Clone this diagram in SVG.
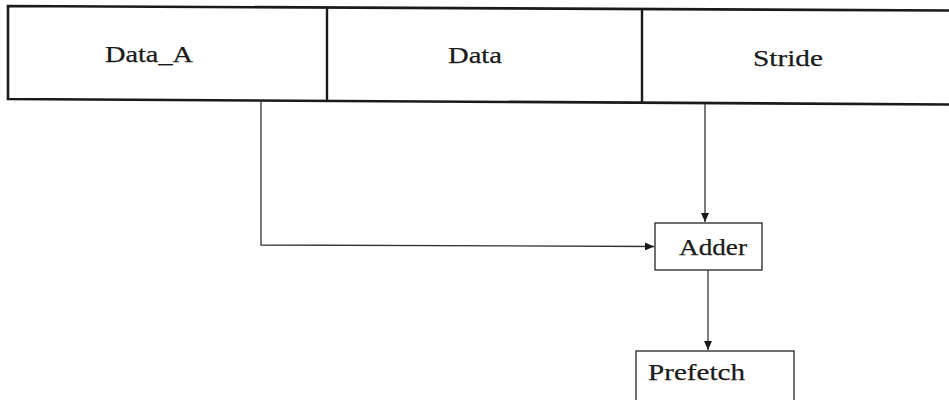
<svg xmlns="http://www.w3.org/2000/svg" width="949" height="400" viewBox="0 0 949 400">
<style>
.bar{fill:#fff;stroke:#1a1a1a;stroke-width:2.6}
.box{fill:#fff;stroke:#333;stroke-width:1.4}
.conn{fill:none;stroke:#333;stroke-width:1.3}
text{font-family:"Liberation Serif","Times New Roman",serif;fill:#1a1a1a;font-size:24px;stroke:#1a1a1a;stroke-width:0.25}
</style>
<defs>
<marker id="ah" markerWidth="10" markerHeight="8" refX="9" refY="4" orient="auto" markerUnits="userSpaceOnUse">
<path d="M0,0 L9,4 L0,8 Z" fill="#1a1a1a"/>
</marker>
</defs>
<rect width="949" height="400" fill="#fff"/>
<g id="register">
<polygon class="bar" points="8,6 951,10.5 951,104.5 8,99"/>
<line x1="327" y1="7" x2="327" y2="101" stroke="#1a1a1a" stroke-width="2.4"/>
<line x1="642" y1="8.5" x2="642" y2="102.5" stroke="#1a1a1a" stroke-width="2.4"/>
</g>
<g id="data_a"><text x="105" y="62" textLength="88" lengthAdjust="spacingAndGlyphs">Data_A</text></g>
<g id="data"><text x="448" y="63" textLength="54" lengthAdjust="spacingAndGlyphs">Data</text></g>
<g id="stride"><text x="753" y="66" textLength="70" lengthAdjust="spacingAndGlyphs">Stride</text></g>
<g id="adder">
<rect class="box" x="655" y="223" width="107" height="47"/>
<text x="679" y="255" textLength="68" lengthAdjust="spacingAndGlyphs">Adder</text>
</g>
<g id="prefetch">
<rect class="box" x="636" y="351" width="158" height="52"/>
<text x="648" y="380" textLength="97" lengthAdjust="spacingAndGlyphs">Prefetch</text>
</g>
<g id="connectors">
<path class="conn" d="M261,100 L261,245 L654,246.5" marker-end="url(#ah)"/>
<path class="conn" d="M705,104 L705,222" marker-end="url(#ah)"/>
<path class="conn" d="M708,270 L708,350" marker-end="url(#ah)"/>
</g>
</svg>
